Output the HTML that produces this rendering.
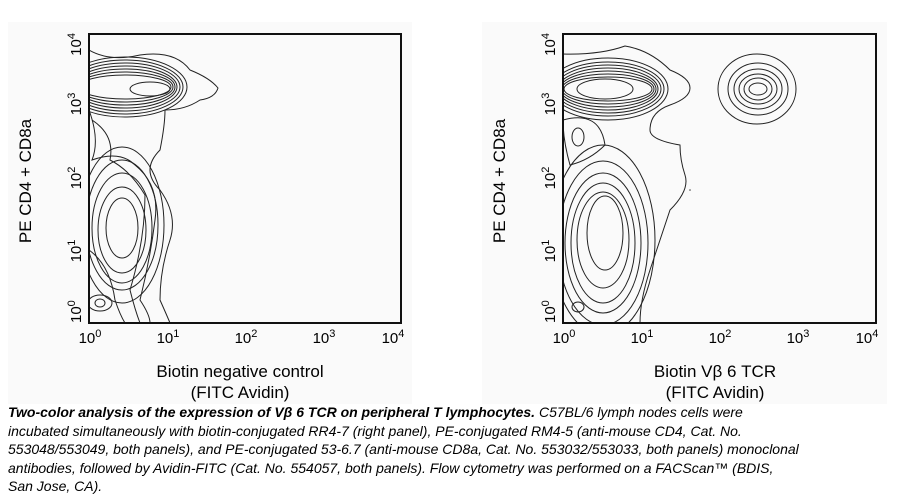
<!DOCTYPE html>
<html><head><style>
body{margin:0;background:#fff;width:913px;height:498px;overflow:hidden;font-family:"Liberation Sans",sans-serif}
.cap{position:absolute;left:8px;top:403px;font-size:14px;font-style:italic;line-height:18.6px;color:#000;width:905px;white-space:nowrap;letter-spacing:0px}
</style></head><body>
<svg width="913" height="498" style="position:absolute;left:0;top:0" font-family="Liberation Sans, sans-serif">
<rect x="8" y="22" width="404" height="382" fill="#fafafa"/>
<rect x="482" y="22" width="405" height="382" fill="#fafafa"/>
<defs>
<clipPath id="c1"><rect x="89" y="34" width="312" height="289"/></clipPath>
<clipPath id="c2"><rect x="563" y="34" width="313" height="289"/></clipPath>
</defs>
<g clip-path="url(#c1)" fill="none" stroke="#222" stroke-width="1">
<path d="M89,50 Q110,62 140,55 Q175,50 190,70 Q210,78 218,88 Q215,98 200,100 Q185,110 165,110 Q165,125 160,150 Q140,170 160,190 Q178,215 170,240 Q160,270 160,300 Q168,318 170,323"/>
<ellipse cx="125" cy="87" rx="62" ry="30"/><ellipse cx="125" cy="87" rx="58" ry="27"/>
<ellipse cx="125" cy="87" rx="55" ry="24"/><ellipse cx="125" cy="87" rx="52" ry="21"/>
<ellipse cx="125" cy="87" rx="50" ry="18"/><ellipse cx="125" cy="87" rx="48" ry="15"/>
<ellipse cx="125" cy="87" rx="46" ry="12"/><ellipse cx="150" cy="89" rx="20" ry="7"/>
<path d="M89,110 Q100,140 92,160 Q120,150 135,165 Q160,185 155,220 Q150,260 140,300 Q150,315 150,323"/>
<path d="M92,120 Q115,135 110,160 Q130,170 145,195 Q145,240 130,290 Q135,310 140,323"/>
<ellipse cx="122" cy="225" rx="42" ry="78"/><ellipse cx="122" cy="225" rx="36" ry="65"/>
<ellipse cx="122" cy="228" rx="30" ry="55"/><ellipse cx="122" cy="230" rx="24" ry="43"/>
<ellipse cx="122" cy="228" rx="16" ry="30"/>
<ellipse cx="100" cy="303" rx="12" ry="8"/><ellipse cx="100" cy="303" rx="5" ry="4"/>
<path d="M89,250 Q110,265 115,300 Q120,315 125,323"/>
</g>
<g clip-path="url(#c2)" fill="none" stroke="#222" stroke-width="1">
<path d="M563,54 Q600,55 625,46 Q650,50 670,70 Q690,78 690,88 Q690,98 670,105 Q650,112 650,130 Q650,140 680,145 Q680,160 685,175 Q690,190 670,210 Q660,240 650,270 Q640,300 640,323"/>
<ellipse cx="608" cy="89" rx="60" ry="31"/><ellipse cx="608" cy="89" rx="56" ry="27"/>
<ellipse cx="608" cy="89" rx="53" ry="24"/><ellipse cx="608" cy="89" rx="50" ry="21"/>
<ellipse cx="608" cy="89" rx="48" ry="18"/><ellipse cx="608" cy="89" rx="46" ry="15"/>
<ellipse cx="608" cy="89" rx="44" ry="12"/><ellipse cx="605" cy="89" rx="28" ry="10"/>
<path d="M563,120 Q600,110 605,145 Q590,160 570,165 Q563,140 563,120"/>
<ellipse cx="578" cy="137" rx="6" ry="9"/>
<ellipse cx="603" cy="240" rx="52" ry="95"/><ellipse cx="603" cy="243" rx="45" ry="82"/>
<ellipse cx="603" cy="243" rx="38" ry="70"/><ellipse cx="603" cy="243" rx="32" ry="60"/>
<ellipse cx="603" cy="240" rx="26" ry="48"/><ellipse cx="605" cy="233" rx="18" ry="37"/>
<ellipse cx="578" cy="307" rx="6" ry="5"/>
<ellipse cx="757" cy="89" rx="39" ry="35"/><ellipse cx="758" cy="89" rx="30" ry="26"/>
<ellipse cx="758" cy="89" rx="24" ry="20"/><ellipse cx="758" cy="89" rx="19" ry="15"/>
<ellipse cx="758" cy="89" rx="14" ry="11"/><ellipse cx="758" cy="89" rx="9" ry="6"/>
</g>
<circle cx="690" cy="190" r="0.8" fill="#444"/>
<rect x="89" y="34" width="312" height="289" fill="none" stroke="#111" stroke-width="2"/>
<rect x="563" y="34" width="313" height="289" fill="none" stroke="#111" stroke-width="2"/>
<g font-size="15" fill="#000">
<g text-anchor="middle">
<text x="90" y="343">10<tspan dy="-6" font-size="11">0</tspan></text>
<text x="168" y="343">10<tspan dy="-6" font-size="11">1</tspan></text>
<text x="246" y="343">10<tspan dy="-6" font-size="11">2</tspan></text>
<text x="324" y="343">10<tspan dy="-6" font-size="11">3</tspan></text>
<text x="393" y="343">10<tspan dy="-6" font-size="11">4</tspan></text>
<text x="564" y="343">10<tspan dy="-6" font-size="11">0</tspan></text>
<text x="642" y="343">10<tspan dy="-6" font-size="11">1</tspan></text>
<text x="720" y="343">10<tspan dy="-6" font-size="11">2</tspan></text>
<text x="798" y="343">10<tspan dy="-6" font-size="11">3</tspan></text>
<text x="867" y="343">10<tspan dy="-6" font-size="11">4</tspan></text>
</g>
<g font-size="17" text-anchor="middle">
<text x="240" y="377">Biotin negative control</text>
<text x="240" y="398">(FITC Avidin)</text>
<text x="715" y="377">Biotin Vβ 6 TCR</text>
<text x="715" y="398">(FITC Avidin)</text>
<text transform="translate(31,181) rotate(-90)">PE CD4 + CD8a</text>
<text transform="translate(505,181) rotate(-90)">PE CD4 + CD8a</text>
</g>
<g>
<text transform="translate(81,323) rotate(-90)" text-anchor="start">10<tspan dy="-6" font-size="11">0</tspan></text>
<text transform="translate(81,251) rotate(-90)" text-anchor="middle">10<tspan dy="-6" font-size="11">1</tspan></text>
<text transform="translate(81,178) rotate(-90)" text-anchor="middle">10<tspan dy="-6" font-size="11">2</tspan></text>
<text transform="translate(81,104) rotate(-90)" text-anchor="middle">10<tspan dy="-6" font-size="11">3</tspan></text>
<text transform="translate(81,33) rotate(-90)" text-anchor="end">10<tspan dy="-6" font-size="11">4</tspan></text>
<text transform="translate(555,323) rotate(-90)" text-anchor="start">10<tspan dy="-6" font-size="11">0</tspan></text>
<text transform="translate(555,251) rotate(-90)" text-anchor="middle">10<tspan dy="-6" font-size="11">1</tspan></text>
<text transform="translate(555,178) rotate(-90)" text-anchor="middle">10<tspan dy="-6" font-size="11">2</tspan></text>
<text transform="translate(555,104) rotate(-90)" text-anchor="middle">10<tspan dy="-6" font-size="11">3</tspan></text>
<text transform="translate(555,33) rotate(-90)" text-anchor="end">10<tspan dy="-6" font-size="11">4</tspan></text>
</g>
</g>
</svg>
<div class="cap"><b>Two-color analysis of the expression of Vβ 6 TCR on peripheral T lymphocytes.</b> C57BL/6 lymph nodes cells were<br>incubated simultaneously with biotin-conjugated RR4-7 (right panel), PE-conjugated RM4-5 (anti-mouse CD4, Cat. No.<br>553048/553049, both panels), and PE-conjugated 53-6.7 (anti-mouse CD8a, Cat. No. 553032/553033, both panels) monoclonal<br>antibodies, followed by Avidin-FITC (Cat. No. 554057, both panels). Flow cytometry was performed on a FACScan™ (BDIS,<br>San Jose, CA).</div>
</body></html>
